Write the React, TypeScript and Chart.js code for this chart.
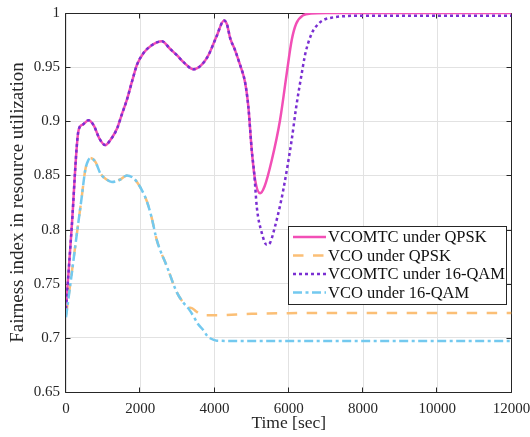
import React, { useEffect, useRef } from "react";
import { Chart, registerables } from "chart.js";

Chart.register(...registerables);

// ---------- data ----------
const X_TICKS = [0, 2000, 4000, 6000, 8000, 10000, 12000];
const X_TICK_LABELS = ["0", "2000", "4000", "6000", "8000", "10000", "12000"];
const Y_TICKS = [0.65, 0.7, 0.75, 0.8, 0.85, 0.9, 0.95, 1];
const Y_TICK_LABELS = ["0.65", "0.7", "0.75", "0.8", "0.85", "0.9", "0.95", "1"];

const SERIES_NAMES = [
  "VCOMTC under QPSK",
  "VCO under QPSK",
  "VCOMTC under 16-QAM",
  "VCO under 16-QAM",
];

const T_VCOMTC_QPSK = [
  0, 150, 340, 450, 608, 750, 900, 1057, 1200, 1372, 1500, 1641, 1780, 1910, 2088, 2300, 2583,
  2800, 2986, 3200, 3433, 3650, 3836, 4050, 4259, 4340, 4420, 4550, 4689, 4823, 4913, 5004,
  5093, 5228, 5350, 5542, 5765, 5945, 6080, 6200, 6393, 6600, 7000, 8000, 10000, 12000,
];
const V_VCOMTC_QPSK = [
  0.727, 0.8, 0.892, 0.897, 0.901, 0.896, 0.884, 0.878, 0.883, 0.893, 0.906, 0.92, 0.937, 0.952,
  0.963, 0.97, 0.974, 0.967, 0.961, 0.9535, 0.948, 0.952, 0.961, 0.978, 0.993, 0.989, 0.977,
  0.966, 0.952, 0.936, 0.913, 0.873, 0.846, 0.8335, 0.84, 0.864, 0.901, 0.944, 0.975, 0.99,
  0.998, 0.9995, 1.0, 1.0, 1.0, 1.0,
];

const T_VCOMTC_16QAM = [
  0, 150, 340, 450, 608, 750, 900, 1057, 1200, 1372, 1500, 1641, 1780, 1910, 2088, 2300, 2583,
  2800, 2986, 3200, 3433, 3650, 3836, 4050, 4259, 4340, 4420, 4550, 4689, 4823, 4913, 5004,
  5070, 5139, 5273, 5408, 5500, 5631, 5765, 5855, 6080, 6200, 6349, 6450, 6618, 6800, 6931,
  7200, 7469, 8000, 10000, 12000,
];
const V_VCOMTC_16QAM = [
  0.727, 0.8, 0.892, 0.897, 0.901, 0.896, 0.884, 0.878, 0.883, 0.893, 0.906, 0.92, 0.937, 0.952,
  0.963, 0.97, 0.974, 0.967, 0.961, 0.9535, 0.948, 0.952, 0.961, 0.978, 0.993, 0.989, 0.977,
  0.966, 0.952, 0.936, 0.913, 0.873, 0.852, 0.821, 0.797, 0.786, 0.788, 0.803, 0.822, 0.837,
  0.883, 0.913, 0.944, 0.963, 0.981, 0.99, 0.9935, 0.996, 0.997, 0.9975, 0.9975, 0.9975,
];

const T_VCO_QPSK = [
  0, 150, 296, 420, 519, 600, 654, 800, 923, 1103, 1238, 1450, 1641, 1800, 1910, 2050, 2179,
  2300, 2448, 2717, 2986, 3150, 3300, 3390, 3500, 3613, 3800, 4000, 5000, 6000, 8000, 12000,
];
const V_VCO_QPSK = [
  0.721, 0.759, 0.797, 0.829, 0.855, 0.864, 0.866, 0.862, 0.852, 0.846, 0.844, 0.846, 0.85,
  0.848, 0.844, 0.836, 0.826, 0.812, 0.79, 0.766, 0.742, 0.733, 0.728, 0.7275, 0.7245, 0.722,
  0.7208, 0.7208, 0.7222, 0.7228, 0.723, 0.723,
];

const T_VCO_16QAM = [
  0, 150, 296, 420, 519, 600, 654, 800, 923, 1103, 1238, 1450, 1641, 1800, 1910, 2050, 2179,
  2300, 2448, 2717, 2986, 3150, 3300, 3433, 3550, 3702, 3800, 3882, 4062, 5000, 8000, 12000,
];
const V_VCO_16QAM = [
  0.719, 0.758, 0.797, 0.829, 0.855, 0.864, 0.866, 0.862, 0.852, 0.846, 0.844, 0.846, 0.85,
  0.848, 0.844, 0.836, 0.826, 0.812, 0.79, 0.766, 0.742, 0.733, 0.727, 0.72, 0.713, 0.707,
  0.702, 0.6996, 0.6974, 0.697, 0.697, 0.697,
];

// ---------- styles ----------
const COLORS = ["#f24fb6", "#fbbf76", "#7a2fd2", "#73c9ef"];
const DASHES: number[][] = [[], [10.5, 9.5], [3, 3], [9, 3.5, 3, 3.5]];
const AXIS_COLOR = "#262626";
const FONT = '"Liberation Serif", "Times New Roman", serif';

const toPoints = (t: number[], v: number[]) => t.map((x, i) => ({ x, y: v[i] }));

const framePlugin = {
  id: "frame",
  beforeDatasetsDraw(chart: any) {
    const { ctx, chartArea, scales } = chart;
    const { left, right, top, bottom } = chartArea;
    const L = Math.round(left) - 0.5;
    const R = Math.round(right) - 0.5;
    const T = Math.round(top) + 0.5;
    const B = Math.round(bottom) + 0.5;
    ctx.save();
    ctx.strokeStyle = AXIS_COLOR;
    ctx.lineWidth = 1;
    ctx.beginPath();
    ctx.rect(L, T, R - L, B - T);
    const tl = 5;
    X_TICKS.forEach((v) => {
      const px = Math.round(scales.x.getPixelForValue(v)) - 0.5;
      ctx.moveTo(px, B);
      ctx.lineTo(px, B - tl);
      ctx.moveTo(px, T);
      ctx.lineTo(px, T + tl);
    });
    Y_TICKS.forEach((v) => {
      const py = Math.round(scales.y.getPixelForValue(v)) + 0.5;
      ctx.moveTo(L, py);
      ctx.lineTo(L + tl, py);
      ctx.moveTo(R, py);
      ctx.lineTo(R - tl, py);
    });
    ctx.stroke();
    ctx.restore();
  },
};

const legendPlugin = {
  id: "customLegend",
  afterDraw(chart: any) {
    const { ctx, chartArea } = chart;
    const bx = Math.round(chartArea.right - 223.5) + 0.5;
    const by = Math.round(chartArea.top + 213) + 0.5;
    const bw = 218;
    const bh = 78;
    ctx.save();
    ctx.fillStyle = "#ffffff";
    ctx.fillRect(bx, by, bw, bh);
    ctx.strokeStyle = AXIS_COLOR;
    ctx.lineWidth = 1;
    ctx.strokeRect(bx, by, bw, bh);
    ctx.font = `16.5px ${FONT}`;
    ctx.textBaseline = "middle";
    ctx.textAlign = "left";
    SERIES_NAMES.forEach((name, i) => {
      const cy = by + 10.5 + i * 18.5;
      ctx.beginPath();
      ctx.strokeStyle = COLORS[i];
      ctx.lineWidth = 2.5;
      ctx.setLineDash(DASHES[i]);
      ctx.moveTo(bx + 4.5, cy);
      ctx.lineTo(bx + 37.5, cy);
      ctx.stroke();
      ctx.setLineDash([]);
      ctx.fillStyle = "#111111";
      ctx.fillText(name, bx + 39.5, cy + 1);
    });
    ctx.restore();
  },
};

export default function App() {
  const canvasRef = useRef<HTMLCanvasElement>(null);

  useEffect(() => {
    document.body.style.margin = "0";
    const canvas = canvasRef.current;
    if (!canvas) return;

    const seriesT = [T_VCOMTC_QPSK, T_VCO_QPSK, T_VCOMTC_16QAM, T_VCO_16QAM];
    const seriesV = [V_VCOMTC_QPSK, V_VCO_QPSK, V_VCOMTC_16QAM, V_VCO_16QAM];
    const drawOrder = [3, 2, 1, 0];

    const chart = new Chart(canvas, {
      type: "line",
      data: {
        datasets: SERIES_NAMES.map((name, i) => ({
          label: name,
          data: toPoints(seriesT[i], seriesV[i]),
          borderColor: COLORS[i],
          backgroundColor: COLORS[i],
          borderWidth: 2.5,
          borderDash: DASHES[i],
          pointRadius: 0,
          fill: false,
          cubicInterpolationMode: "monotone" as const,
          order: drawOrder[i],
        })),
      },
      options: {
        animation: false,
        responsive: false,
        devicePixelRatio: 1,
        layout: { padding: { left: 0, right: 18.5, top: 13, bottom: 0 } },
        plugins: {
          legend: { display: false },
          tooltip: { enabled: false },
        },
        scales: {
          x: {
            type: "linear",
            min: 0,
            max: 12000,
            afterBuildTicks: (s: any) => {
              s.ticks = X_TICKS.map((value) => ({ value }));
            },
            afterFit: (s: any) => {
              s.height = 45;
              s.paddingLeft = 0;
              s.paddingRight = 0;
            },
            ticks: {
              color: AXIS_COLOR,
              font: { family: FONT, size: 15 },
              padding: 8,
              maxRotation: 0,
              autoSkip: false,
              callback: (v: any) => X_TICK_LABELS[X_TICKS.indexOf(Number(v))] ?? "",
            },
            grid: { color: "#e2e2e2", lineWidth: 1, drawTicks: false },
            border: { display: false },
            title: {
              display: true,
              text: "Time [sec]",
              color: AXIS_COLOR,
              font: { family: FONT, size: 17.5 },
              padding: { top: 0, bottom: 3 },
            },
          },
          y: {
            type: "linear",
            min: 0.65,
            max: 1,
            afterBuildTicks: (s: any) => {
              s.ticks = Y_TICKS.map((value) => ({ value }));
            },
            afterFit: (s: any) => {
              s.width = 66;
              s.paddingTop = 0;
              s.paddingBottom = 0;
            },
            ticks: {
              color: AXIS_COLOR,
              font: { family: FONT, size: 15 },
              padding: 6,
              autoSkip: false,
              callback: (v: any) => {
                const idx = Y_TICKS.findIndex((t) => Math.abs(t - Number(v)) < 1e-9);
                return idx >= 0 ? Y_TICK_LABELS[idx] : "";
              },
            },
            grid: { color: "#e2e2e2", lineWidth: 1, drawTicks: false },
            border: { display: false },
            title: {
              display: true,
              text: "Fairness index in resource utilization",
              color: AXIS_COLOR,
              font: { family: FONT, size: 19 },
              padding: { top: 7, bottom: 0 },
            },
          },
        },
      },
      plugins: [framePlugin, legendPlugin],
    });

    return () => chart.destroy();
  }, []);

  return (
    <div style={{ width: 530, height: 437 }}>
      <canvas ref={canvasRef} width={530} height={437} style={{ display: "block" }} />
    </div>
  );
}
